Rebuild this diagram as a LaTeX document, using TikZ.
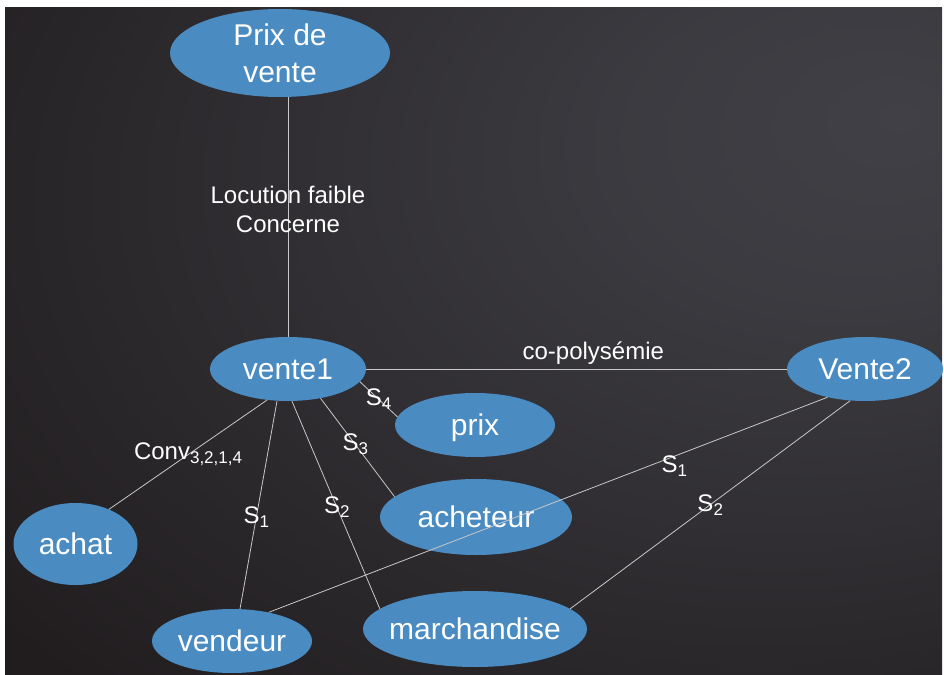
\documentclass[tikz,border=0pt]{standalone}
\usepackage{fontspec}
\setmainfont{Liberation Sans}
\usetikzlibrary{shapes.geometric}
\definecolor{bgdark}{RGB}{33,29,31}
\definecolor{bglight}{RGB}{64,64,70}
\definecolor{nodeblue}{RGB}{74,139,194}
\definecolor{linegray}{RGB}{200,200,200}
\pgfdeclareradialshading{bgshade}{\pgfpoint{23bp}{17bp}}{color(0bp)=(bglight); color(12bp)=(bglight!85!bgdark); color(48bp)=(bgdark); color(100bp)=(bgdark)}
\newcommand\lowsub[1]{\raisebox{-4pt}{\fontsize{17}{17}\selectfont #1}}
\begin{document}
\begin{tikzpicture}[x=1pt,y=-1pt,
  ell/.style={ellipse, fill=nodeblue, text=white, inner sep=-20pt,
              font=\fontsize{30}{37}\selectfont, align=center},
  one/.style={text height=21.5pt, text depth=0pt},
  conn/.style={draw=linegray, line width=0.8pt},
  lbl/.style={text=white, font=\fontsize{24}{29}\selectfont, inner sep=0pt, align=center}]
\useasboundingbox (0,0) rectangle (944,674);
\fill[bgdark] (5,8) rectangle (942,674);
\shade[shading=bgshade] (5,8) rectangle (942,674);

\node[ell, minimum width=220pt, minimum height=88pt] (prixvente) at (280,53) {Prix de\\vente};
\node[ell, one, minimum width=156pt, minimum height=64pt] (vente1) at (288,369) {vente1};
\node[ell, one, minimum width=156pt, minimum height=64pt] (vente2) at (865,369) {Vente2};
\node[ell, one, minimum width=160pt, minimum height=64pt] (prix) at (475,425) {prix};
\node[ell, one, minimum width=192pt, minimum height=76pt] (acheteur) at (476,517) {acheteur};
\node[ell, one, minimum width=124pt, minimum height=82pt] (achat) at (75.5,544) {achat};
\node[ell, one, minimum width=160pt, minimum height=64pt] (vendeur) at (232,641) {vendeur};
\node[ell, one, minimum width=224pt, minimum height=76pt] (marchandise) at (475,629) {marchandise};

\draw[conn] (vente1.north |- prixvente.south) -- node[lbl, pos=0.47] (lloc) {Locution faible\\Concerne} (vente1.north);
\draw[conn] (vente1.east) -- node[lbl, pos=0.54, yshift=16pt] (lcopoly) {co-polysémie} (vente2.west);
\draw[conn] (vente1.350) -- node[lbl, pos=0.5] (ls4) {S\lowsub{4}} (prix.174);
\draw[conn] (vente1.318) -- node[lbl, pos=0.47] (ls3) {S\lowsub{3}} (acheteur.166);
\draw[conn] (vente1.277) -- node[lbl, pos=0.51] (ls2) {S\lowsub{2}} (marchandise.168);
\draw[conn] (vente1.251) -- node[lbl, pos=0.56] (ls1) {S\lowsub{1}} (vendeur.76);
\draw[conn] (vente1.236) -- node[lbl, pos=0.5] (lconv) {Conv\lowsub{3,2,1,4}} (achat.46);
\draw[conn] (vente2.217) -- node[lbl, pos=0.274, yshift=-10pt] (ls1b) {S\lowsub{1}} (vendeur.38);
\draw[conn] (vente2.245) -- node[lbl, pos=0.5] (ls2b) {S\lowsub{2}} (marchandise.12);
\end{tikzpicture}
\end{document}
